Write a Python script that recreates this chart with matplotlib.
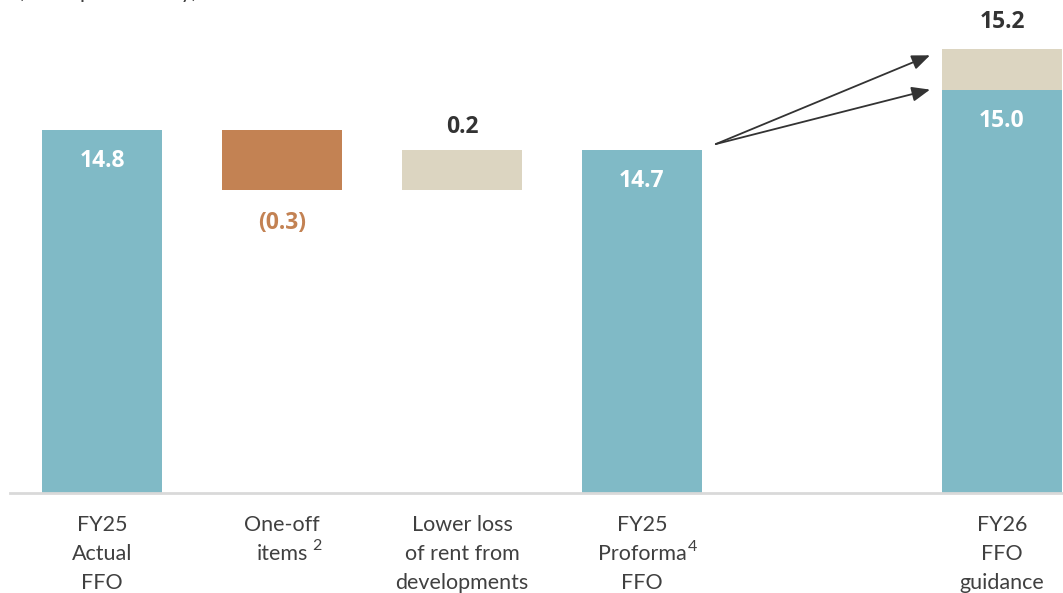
import numpy as np
import matplotlib.pyplot as plt

plt.rcParams['font.family'] = ['Lato', 'DejaVu Sans']

# waterfall data (cents per security)
categories = ["FY25\nActual\nFFO", "One-off\nitems", "Lower loss\nof rent from\ndevelopments",
              "FY25\nProforma\nFFO", "FY26\nFFO\nguidance"]
footnotes = {1: (1, "2", 5), 3: (1, "4", 1)}  # tick -> (line, mark, gap px)
positions = [0, 1, 2, 3, 5]
fy25_actual = 14.8
one_off = -0.3
lower_loss = 0.2
fy25_proforma = 14.7
fy26_base = 15.0
fy26_total = 15.2
axis_floor = 13.0

teal = "#80BAC6"
brown = "#C38253"
beige = "#DCD5C1"
dark = "#333333"
label_col = "#404040"

px_per_unit = 201.7
tick_fs = 15.5

fig = plt.figure(figsize=(10.63, 5.93), dpi=100)
ax = fig.add_axes([0, 100 / 593, 1, 493 / 593])

w = 120 / 180
# totals
ax.bar(positions[0], fy25_actual - axis_floor, w, bottom=axis_floor, color=teal, zorder=2)
ax.bar(positions[3], fy25_proforma - axis_floor, w, bottom=axis_floor, color=teal, zorder=2)
ax.bar(positions[4], fy26_base - axis_floor, w, bottom=axis_floor, color=teal, zorder=2)
ax.bar(positions[4], fy26_total - fy26_base, w, bottom=fy26_base, color=beige, zorder=2)
# movements
after_one_off = fy25_actual + one_off
ax.bar(positions[1], -one_off, w, bottom=after_one_off, color=brown, zorder=2)
ax.bar(positions[2], lower_loss, w, bottom=after_one_off, color=beige, zorder=2)

ax.set_xlim(-102 / 180, (1063 - 102) / 180)
ax.set_ylim(axis_floor, axis_floor + 493 / px_per_unit)

# value labels
lab = dict(ha="center", va="center", fontsize=16.5, fontweight="bold", family="Open Sans")
ax.text(positions[0], fy25_actual - 0.155, f"{fy25_actual:.1f}", color="white", **lab)
ax.text(positions[1], after_one_off - 0.16, f"({-one_off:.1f})", color=brown, **lab)
ax.text(positions[2], after_one_off + lower_loss + 0.115, f"{lower_loss:.1f}", color=dark, **lab)
ax.text(positions[3], fy25_proforma - 0.155, f"{fy25_proforma:.1f}", color="white", **lab)
ax.text(positions[4], fy26_base - 0.155, f"{fy26_base:.1f}", color="white", **lab)
ax.text(positions[4], fy26_total + 0.135, f"{fy26_total:.1f}", color=dark, **lab)

# arrows from proforma to guidance
start = (positions[3] + 0.41, fy25_proforma + 0.03)
for yend in [fy26_total - 0.03, fy26_base]:
    ax.annotate("", xy=(positions[4] - 0.4, yend), xytext=start,
                arrowprops=dict(arrowstyle="-|>,head_length=1.1,head_width=0.45",
                                color=dark, lw=1.3, shrinkA=0, shrinkB=0))

for s in ["top", "right", "left"]:
    ax.spines[s].set_visible(False)
ax.spines["bottom"].set_color("#D9D9D9")
ax.spines["bottom"].set_linewidth(2)
ax.spines["bottom"].set_bounds(-92 / 180, (1063 - 102) / 180)
ax.spines["bottom"].set_zorder(3)
ax.set_yticks([])
ax.set_xticks(positions)
ax.set_xticklabels(categories, fontsize=tick_fs, color=label_col, linespacing=1.55)
ax.tick_params(axis="x", length=0, pad=16)

fig.text(18 / 1063, 1 + 2 / 593, "(cents per security)", fontsize=tick_fs, color=label_col,
         ha="left", va="baseline")

# footnote superscripts placed after the right word of the tick label
fig.canvas.draw()
r = fig.canvas.get_renderer()
W, H = fig.bbox.width, fig.bbox.height
for idx, (line, mark, gap) in footnotes.items():
    bb = ax.get_xticklabels()[idx].get_window_extent(r)
    lines = categories[idx].split("\n")
    tmp = fig.text(0, 0, lines[line], fontsize=tick_fs)
    lw = tmp.get_window_extent(r).width
    tmp.remove()
    lh = bb.height / len(lines)
    x = (bb.x0 + bb.x1) / 2 + lw / 2 + gap
    y = bb.y1 - line * lh + 1
    fig.text(x / W, y / H, mark, fontsize=11.5, color=label_col, ha="left", va="top")

fig.savefig("out.png", dpi=100)
